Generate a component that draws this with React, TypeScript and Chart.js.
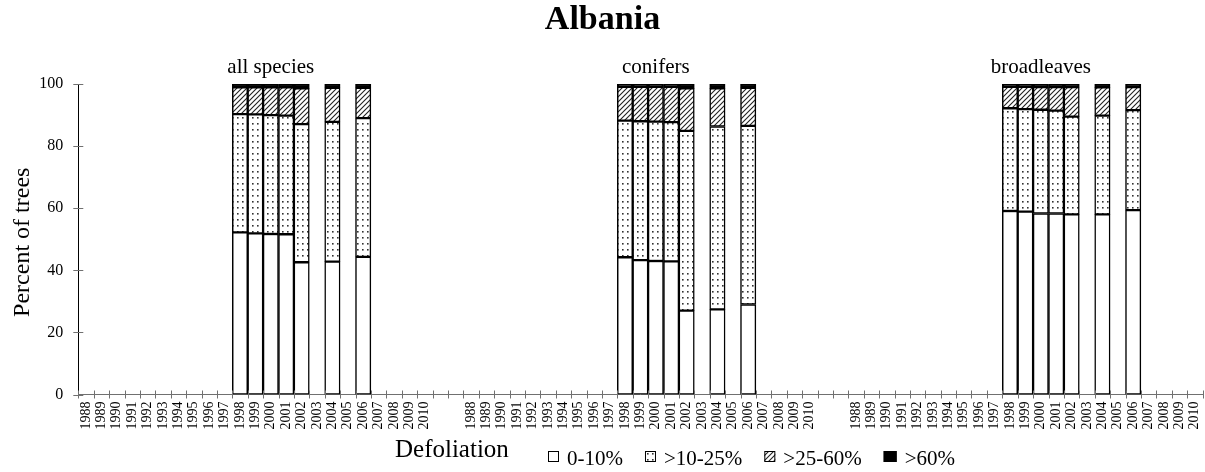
import React, { useEffect, useRef } from 'react';
import { Chart, registerables } from 'chart.js';

Chart.register(...registerables);

// ---------- data ----------
const YEARS = [
  '1988', '1989', '1990', '1991', '1992', '1993', '1994', '1995', '1996', '1997', '1998', '1999',
  '2000', '2001', '2002', '2003', '2004', '2005', '2006', '2007', '2008', '2009', '2010',
];
const GROUPS = ['all species', 'conifers', 'broadleaves'];
const GAP_CATEGORIES = 2;
const SURVEY_YEARS = ['1998', '1999', '2000', '2001', '2002', '2004', '2006'];
const CLASSES = ['0-10%', '>10-25%', '>25-60%', '>60%'];
const Y_TICKS = [0, 20, 40, 60, 80, 100];

// all species
const ALL_0_10 = [52.2, 51.9, 51.7, 51.6, 42.6, 42.8, 44.3];
const ALL_10_25 = [38.1, 38.3, 38.3, 38.2, 44.5, 45.0, 44.7];
const ALL_25_60 = [8.6, 8.7, 8.9, 9.1, 11.5, 11.0, 9.8];
const ALL_60 = [1.1, 1.1, 1.1, 1.1, 1.4, 1.2, 1.2];
// conifers
const CON_0_10 = [44.2, 43.3, 43.0, 42.9, 27.0, 27.4, 29.0];
const CON_10_25 = [44.0, 44.7, 44.9, 44.8, 57.9, 58.9, 57.5];
const CON_25_60 = [10.9, 11.1, 11.2, 11.4, 13.7, 12.3, 12.3];
const CON_60 = [0.9, 0.9, 0.9, 0.9, 1.4, 1.4, 1.2];
// broadleaves
const BRO_0_10 = [59.1, 58.9, 58.3, 58.3, 58.0, 58.0, 59.4];
const BRO_10_25 = [33.1, 33.0, 33.4, 33.1, 31.5, 31.8, 32.2];
const BRO_25_60 = [6.9, 7.2, 7.3, 7.6, 9.5, 9.1, 7.4];
const BRO_60 = [0.9, 0.9, 1.0, 1.0, 1.0, 1.1, 1.0];

const GROUP_DATA = [
  [ALL_0_10, ALL_10_25, ALL_25_60, ALL_60],
  [CON_0_10, CON_10_25, CON_25_60, CON_60],
  [BRO_0_10, BRO_10_25, BRO_25_60, BRO_60],
];

// ---------- derived tables ----------
const LABELS: string[] = [];
const GROUP_START: number[] = [];
GROUPS.forEach((_, g) => {
  GROUP_START.push(LABELS.length);
  YEARS.forEach((y) => LABELS.push(y));
  if (g < GROUPS.length - 1) for (let i = 0; i < GAP_CATEGORIES; i++) LABELS.push('');
});

function seriesFor(k: number): (number | null)[] {
  const out: (number | null)[] = [];
  GROUPS.forEach((_, g) => {
    YEARS.forEach((y) => {
      const idx = SURVEY_YEARS.indexOf(y);
      out.push(idx >= 0 ? GROUP_DATA[g][k][idx] : null);
    });
    if (g < GROUPS.length - 1) for (let i = 0; i < GAP_CATEGORIES; i++) out.push(null);
  });
  return out;
}

const FONT = '"Liberation Serif", "Times New Roman", serif';

function makeDots(): CanvasPattern | string {
  const w = 5;
  const h = 6;
  const c = document.createElement('canvas');
  c.width = w;
  c.height = h;
  const x = c.getContext('2d');
  if (!x) return '#fff';
  x.fillStyle = '#fff';
  x.fillRect(0, 0, w, h);
  x.fillStyle = '#333';
  x.fillRect(2, 3, 1.6, 1.6);
  return x.createPattern(c, 'repeat') || '#fff';
}

function makeHatch(): CanvasPattern | string {
  const s = 5;
  const c = document.createElement('canvas');
  c.width = s;
  c.height = s;
  const x = c.getContext('2d');
  if (!x) return '#888';
  x.fillStyle = '#fff';
  x.fillRect(0, 0, s, s);
  x.strokeStyle = '#222';
  x.lineWidth = 1.1;
  x.beginPath();
  x.moveTo(-1, s + 1);
  x.lineTo(s + 1, -1);
  x.moveTo(-1, 1);
  x.lineTo(1, -1);
  x.moveTo(s - 1, s + 1);
  x.lineTo(s + 1, s - 1);
  x.stroke();
  return x.createPattern(c, 'repeat') || '#888';
}

export default function App() {
  const ref = useRef<HTMLCanvasElement | null>(null);

  useEffect(() => {
    if (!ref.current) return;
    const dots = makeDots();
    const hatch = makeHatch();
    const fills: (string | CanvasPattern)[] = ['#ffffff', dots, hatch, '#000000'];

    const extras = {
      id: 'extras',
      afterDraw(chart: any) {
        const ctx: CanvasRenderingContext2D = chart.ctx;
        const xs = chart.scales.x;
        const ys = chart.scales.y;
        const area = chart.chartArea;
        ctx.save();
        // tick marks crossing the axes
        ctx.strokeStyle = '#707070';
        ctx.lineWidth = 1;
        ctx.beginPath();
        for (let i = 0; i <= LABELS.length; i++) {
          const px = Math.round(xs.getPixelForValue(i - 0.5)) + 0.5;
          ctx.moveTo(px, area.bottom - 4);
          ctx.lineTo(px, area.bottom + 4);
        }
        Y_TICKS.forEach((v) => {
          const py = Math.round(ys.getPixelForValue(v)) + 0.5;
          ctx.moveTo(area.left - 5, py);
          ctx.lineTo(area.left + 5, py);
        });
        ctx.stroke();

        ctx.fillStyle = '#000';
        // title
        ctx.font = `bold 34px ${FONT}`;
        ctx.textAlign = 'center';
        ctx.textBaseline = 'alphabetic';
        ctx.fillText('Albania', chart.width / 2, 29);

        // group labels
        ctx.font = `21px ${FONT}`;
        GROUPS.forEach((name, g) => {
          const cx = xs.getPixelForValue(GROUP_START[g] + 12);
          ctx.fillText(name, cx, 73);
        });

        // y title
        ctx.save();
        ctx.translate(23, (area.top + area.bottom) / 2 + 3);
        ctx.rotate(-Math.PI / 2);
        ctx.font = `24px ${FONT}`;
        ctx.textBaseline = 'middle';
        ctx.fillText('Percent of trees', 0, 0);
        ctx.restore();

        // x title
        ctx.font = `25px ${FONT}`;
        ctx.textAlign = 'left';
        ctx.fillText('Defoliation', 395, 457);

        // legend
        ctx.font = `21px ${FONT}`;
        let lx = 548;
        const boxTop = 451;
        CLASSES.forEach((label, k) => {
          const bw = k === 3 ? 13 : 11;
          ctx.fillStyle = fills[k] as any;
          ctx.fillRect(lx, boxTop, bw, 11);
          ctx.strokeStyle = '#000';
          ctx.lineWidth = 1;
          ctx.strokeRect(lx + 0.5, boxTop + 0.5, bw - 1, 10);
          ctx.fillStyle = '#000';
          const tx = lx + bw + 8;
          ctx.fillText(label, tx, 465);
          lx = tx + ctx.measureText(label).width + 22;
        });
        ctx.restore();
      },
    };

    const chart = new Chart(ref.current, {
      type: 'bar',
      data: {
        labels: LABELS,
        datasets: CLASSES.map((name, k) => ({
          label: name,
          data: seriesFor(k),
          backgroundColor: fills[k] as any,
          borderColor: '#000',
          borderWidth: 1.5,
          borderSkipped: false,
          categoryPercentage: 1,
          barPercentage: 1,
        })),
      },
      options: {
        animation: false,
        responsive: false,
        devicePixelRatio: 1,
        layout: { padding: { top: 84, right: 2.5, left: 0, bottom: 0 } },
        plugins: { legend: { display: false }, tooltip: { enabled: false }, title: { display: false } },
        scales: {
          x: {
            stacked: true,
            offset: true,
            grid: { display: false, drawTicks: false },
            border: { display: true, color: '#707070', width: 1 },
            ticks: {
              autoSkip: false,
              minRotation: 90,
              maxRotation: 90,
              padding: 7,
              color: '#000',
              font: { family: FONT, size: 14 },
            },
            afterFit: (s: any) => {
              s.height = 77.5;
              s.paddingLeft = 0;
              s.paddingRight = 0;
            },
          },
          y: {
            stacked: true,
            min: 0,
            max: 100,
            grid: { display: false, drawTicks: false },
            border: { display: true, color: '#000', width: 1 },
            ticks: {
              stepSize: 20,
              padding: 15,
              color: '#000',
              font: { family: FONT, size: 16 },
            },
            afterFit: (s: any) => {
              s.width = 78.3;
              s.paddingTop = 0;
              s.paddingBottom = 0;
            },
          },
        },
      },
      plugins: [extras],
    });
    return () => chart.destroy();
  }, []);

  return (
    <div style={{ position: 'absolute', left: 0, top: 0, width: 1205, height: 472, background: '#fff' }}>
      <canvas ref={ref} width={1205} height={472} style={{ width: 1205, height: 472, display: 'block' }} />
    </div>
  );
}
